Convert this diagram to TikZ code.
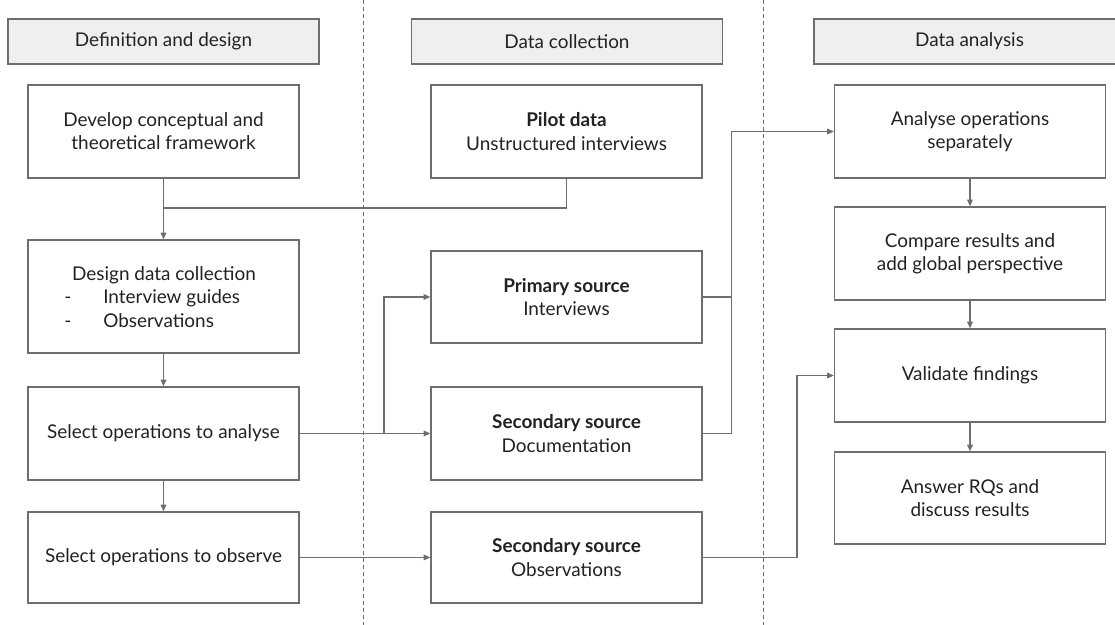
\documentclass[tikz,border=0pt]{standalone}
\usepackage{fontspec}
\setmainfont{Lato}
\usetikzlibrary{arrows.meta,calc}
\definecolor{linegray}{HTML}{6E6E6E}
\definecolor{headfill}{HTML}{EFEFEF}
\definecolor{txtcol}{HTML}{222222}
\tikzset{
  box/.style={draw=linegray, line width=0.95pt, fill=white, text=txtcol,
    minimum width=203.25pt, minimum height=69.75pt, inner sep=0pt,
    align=center, font=\fontsize{14.2}{17.4}\selectfont},
  headbox/.style={box, fill=headfill, minimum width=233.25pt, minimum height=33.75pt},
  conn/.style={draw=linegray, line width=0.95pt},
  arr/.style={conn, -{Triangle[length=5pt,width=4.2pt]}},
  sep/.style={draw=linegray, line width=0.6pt, dash pattern=on 3pt off 2.3pt},
  listtxt/.style={text=txtcol, inner sep=0pt, font=\fontsize{14.2}{17.4}\selectfont}
}
\begin{document}
\begin{tikzpicture}[x=0.75pt, y=-0.75pt]
\useasboundingbox (0,0) rectangle (1115,625);
\clip (0,0) rectangle (1115,625);

% column separators
\draw[sep] (363,0) -- (363,625);
\draw[sep] (763,0) -- (763,625);

% phase headers
\node[headbox] (h1) at (163.5,41.5) {Definition and design};
\node[headbox] (h2) at (567,41.5) {Data collection};
\node[headbox] (h3) at (969.5,41.5) {Data analysis};

% definition and design
\node[box] (dev) at (163.5,131.5) {Develop conceptual and\\theoretical framework};
\node[box, minimum height=84.75pt] (design) at (163.5,296.5) {};
\node[listtxt, anchor=base] (dtitle) at (164,280) {Design data collection};
\node[listtxt, anchor=base] (dash1) at (68,303.5) {-};
\node[listtxt, anchor=base west] (item1) at (103,303.5) {Interview guides};
\node[listtxt, anchor=base] (dash2) at (68,327) {-};
\node[listtxt, anchor=base west] (item2) at (103,327) {Observations};
\node[box] (selA) at (163.5,433.5) {Select operations to analyse};
\node[box, minimum height=68.25pt] (selO) at (163.5,557.5) {Select operations to observe};

% data collection
\node[box] (pilot) at (566.5,131.5) {\textbf{Pilot data}\\Unstructured interviews};
\node[box, minimum height=69pt] (prim) at (566.5,297) {\textbf{Primary source}\\Interviews};
\node[box] (sdoc) at (566.5,433.5) {\textbf{Secondary source}\\Documentation};
\node[box, minimum height=68.25pt] (sobs) at (566.5,557.5) {\textbf{Secondary source}\\Observations};

% data analysis
\node[box] (anal) at (970,131.5) {Analyse operations\\separately};
\node[box] (comp) at (970,253.5) {Compare results and\\add global perspective};
\node[box] (valid) at (970,375.5) {Validate findings};
\node[box, minimum height=69pt] (answ) at (970,498) {Answer RQs and\\discuss results};

% junctions
\coordinate (jtop) at (163.5,208);
\coordinate (jsel) at (384,433.5);
\coordinate (jcol) at (731.5,297);
\coordinate (jobs) at (797,557.5);

% left column flow
\draw[arr] (dev.south) -- (design.north);
\draw[conn] (pilot.south) |- (jtop);
\draw[arr] (design.south) -- (selA.north);
\draw[arr] (selA.south) -- (selO.north);

% into data collection
\draw[arr] (selA.east) -- (sdoc.west);
\draw[arr] (jsel) |- (prim.west);
\draw[arr] (selO.east) -- (sobs.west);

% into data analysis
\draw[conn] (prim.east) -- (jcol);
\draw[arr] (sdoc.east) -| (jcol) |- (anal.west);
\draw[arr] (sobs.east) -| (jobs) |- (valid.west);

% right column flow
\draw[arr] (anal.south) -- (comp.north);
\draw[arr] (comp.south) -- (valid.north);
\draw[arr] (valid.south) -- (answ.north);
\end{tikzpicture}
\end{document}
